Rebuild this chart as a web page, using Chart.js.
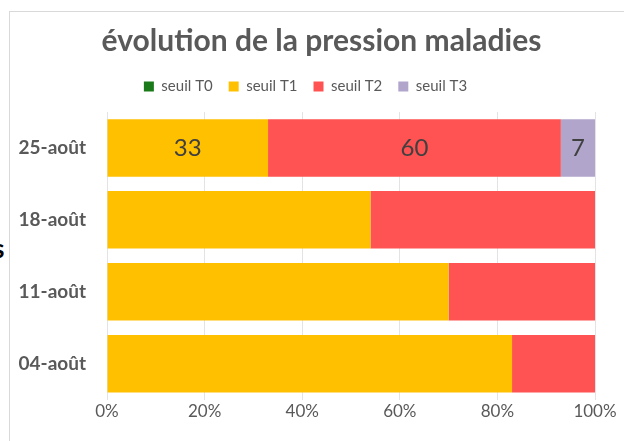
<!DOCTYPE html>
<html>
<head>
<meta charset="utf-8">
<script src="https://cdn.jsdelivr.net/npm/chart.js@4/dist/chart.umd.min.js"></script>
<style>
  body { margin: 0; width: 624px; height: 441px; overflow: hidden; background: #fff; font-family: Lato, sans-serif; }
  #box { position: absolute; left: 9px; top: 11px; width: 640px; height: 460px; border: 1px solid #d9d9d9; background: #fff; }
  #chartwrap { position: absolute; left: 0; top: 0; width: 614px; height: 430px; }
  #cut { position: absolute; left: -7px; top: 232px; font: bold 26px Lato, sans-serif; color: #000; }
</style>
</head>
<body>
<div id="box">
  <div id="chartwrap"><canvas id="barChart" width="614" height="430"></canvas></div>
</div>
<div id="cut">s</div>
<script>
// dates (top to bottom) and share of each threshold, in %
var dates = ["25-août", "18-août", "11-août", "04-août"];
var seuilT0 = [0, 0, 0, 0];
var seuilT1 = [33, 54, 70, 83];
var seuilT2 = [60, 46, 30, 17];
var seuilT3 = [7, 0, 0, 0];
var xTicks = [0, 20, 40, 60, 80, 100];
// only the most recent date carries value labels
var labelledRow = 0;

// draw values inside the segments of one row
var rowLabels = {
  id: "rowLabels",
  afterDatasetsDraw: function(chart) {
    var ctx = chart.ctx;
    ctx.save();
    ctx.font = "24px Lato, sans-serif";
    ctx.fillStyle = "#404040";
    ctx.textAlign = "center";
    ctx.textBaseline = "middle";
    chart.data.datasets.forEach(function(ds, i) {
      var v = ds.data[labelledRow];
      if (!v) return;
      var bar = chart.getDatasetMeta(i).data[labelledRow];
      var p = bar.getProps(["x", "y", "base"], true);
      ctx.fillText(v, (p.x + p.base) / 2, p.y);
    });
    ctx.restore();
  }
};

// a bit more room under the legend
var legendGap = {
  id: "legendGap",
  beforeInit: function(chart) {
    var fit = chart.legend.fit;
    chart.legend.fit = function() {
      fit.bind(chart.legend)();
      this.height += 8;
    };
  },
  // title and legend are centred on the whole frame, not the padded area
  afterLayout: function(chart) {
    chart.titleBlock.left += 19;
    chart.titleBlock.right += 19;
    chart.legend.left += 3;
    chart.legend.right += 3;
  }
};

var config = {
  type: "bar",
  data: {
    labels: dates,
    datasets: [
      { label: "seuil T0", data: seuilT0, backgroundColor: "#1a7a1a" },
      { label: "seuil T1", data: seuilT1, backgroundColor: "#ffc000" },
      { label: "seuil T2", data: seuilT2, backgroundColor: "#ff5252" },
      { label: "seuil T3", data: seuilT3, backgroundColor: "#b1a5cc" }
    ]
  },
  options: {
    indexAxis: "y",
    responsive: false,
    animation: false,
    barPercentage: 0.8,
    categoryPercentage: 1,
    layout: { padding: { left: 0, right: 29, top: 0, bottom: 18 } },
    plugins: {
      title: {
        display: true,
        text: "évolution de la pression maladies",
        color: "#595959",
        font: { family: "Lato, sans-serif", size: 30, weight: "bold" },
        padding: { top: 11, bottom: 4 }
      },
      legend: {
        position: "top",
        labels: {
          color: "#595959",
          font: { family: "Lato, sans-serif", size: 15 },
          boxWidth: 10,
          boxHeight: 10,
          padding: 16
        }
      },
      tooltip: { enabled: false }
    },
    scales: {
      x: {
        stacked: true,
        min: 0,
        max: 100,
        afterBuildTicks: function(axis) {
          axis.ticks = xTicks.map(function(v) { return { value: v }; });
        },
        ticks: {
          color: "#595959",
          font: { family: "Lato, sans-serif", size: 17 },
          padding: 2,
          callback: function(v) { return v + "%"; }
        },
        grid: { color: "#e3e3e3", drawTicks: false },
        border: { display: false }
      },
      y: {
        stacked: true,
        afterFit: function(scale) {
          scale.width = 97;
        },
        ticks: {
          color: "#595959",
          font: { family: "Lato, sans-serif", size: 19, weight: "bold" },
          padding: 21
        },
        grid: { display: false, drawTicks: false },
        border: { display: false }
      }
    }
  },
  plugins: [rowLabels, legendGap]
};

var ctx = document.getElementById("barChart");
var charts = new Chart(ctx, config);
</script>
</body>
</html>
